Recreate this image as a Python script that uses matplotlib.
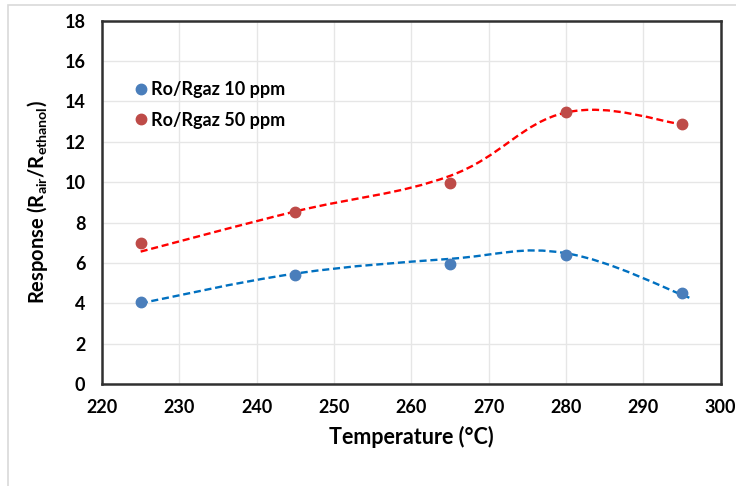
import numpy as np
import matplotlib
matplotlib.use("Agg")
import matplotlib.pyplot as plt
from matplotlib.patches import Rectangle, PathPatch
from matplotlib.path import Path

temps = [225, 245, 265, 280, 295]
resp_10ppm = [4.08, 5.40, 5.93, 6.41, 4.50]
resp_50ppm = [6.99, 8.54, 9.98, 13.47, 12.86]
labels = ["Ro/Rgaz 10 ppm", "Ro/Rgaz 50 ppm"]

# dashed smoothed trend series
trend_10_x = [225, 245, 265, 280, 296]
trend_10_y = [4.00, 5.47, 6.20, 6.48, 4.27]
trend_50_x = [225, 245, 265, 280, 295]
trend_50_y = [6.56, 8.55, 10.31, 13.45, 12.87]

plt.rcParams['font.family'] = ['Lato', 'DejaVu Sans']
plt.rcParams['mathtext.fontset'] = 'custom'
plt.rcParams['mathtext.rm'] = 'Lato'
plt.rcParams['mathtext.bf'] = 'Lato:bold'


def smooth_path(xs, ys, k=1/6.0):
    """Excel-like smoothed line: cubic Bezier segments (Catmull-Rom tangents)."""
    P = np.column_stack([xs, ys]).astype(float)
    n = len(P)
    verts = [P[0]]
    codes = [Path.MOVETO]
    for i in range(n - 1):
        prev = P[i - 1] if i > 0 else P[i]
        nxt = P[i + 2] if i + 2 < n else P[i + 1]
        c1 = P[i] + (P[i + 1] - prev) * k
        c2 = P[i + 1] - (nxt - P[i]) * k
        verts += [c1, c2, P[i + 1]]
        codes += [Path.CURVE4] * 3
    return Path(verts, codes)


fig = plt.figure(figsize=(7.36, 4.86), dpi=100)
fig.patches.append(Rectangle((8/736, -0.1), 1.2, 1 - 5/486 + 0.1, transform=fig.transFigure,
                             fill=False, edgecolor='#d9d9d9', linewidth=1.2))
ax = fig.add_axes([102/736, 1 - 384/486, (720.5 - 102)/736, (384 - 20.7)/486])

blue_pt = '#4a7ebb'
red_pt = '#be4b48'
for tx, ty, col in [(trend_10_x, trend_10_y, '#0070c0'), (trend_50_x, trend_50_y, '#ff0000')]:
    patch = PathPatch(smooth_path(tx, ty, 0.19), fill=False, edgecolor=col, lw=1.7,
                      linestyle=(0, (3, 1.6)), zorder=3)
    ax.add_patch(patch)
ax.plot(temps, resp_10ppm, 'o', color=blue_pt, ms=7.5, label=labels[0], zorder=4)
ax.plot(temps, resp_50ppm, 'o', color=red_pt, ms=7.5, label=labels[1], zorder=4)

ax.set_xlim(220, 300)
ax.set_ylim(0, 18)
ax.set_xticks(range(220, 301, 10))
ax.set_yticks(range(0, 19, 2))
ax.grid(True, color='#e6e6e6', lw=1)
ax.set_axisbelow(True)
for s in ax.spines.values():
    s.set_linewidth(1.8)
    s.set_color('#303030')
ax.tick_params(length=0, labelsize=13, pad=12)
ax.tick_params(axis='x', pad=11)
for t in ax.get_xticklabels() + ax.get_yticklabels():
    t.set_fontweight('bold')
ax.set_xlabel('Temperature (°C)', fontsize=15.5, fontweight='bold', labelpad=7)
ax.set_ylabel(r'Response (R$_{\mathbf{air}}$/R$_{\mathbf{ethanol}}$)', fontsize=14.5,
              fontweight='bold', labelpad=10)
leg = ax.legend(loc='upper left', bbox_to_anchor=(0.022, 0.878), frameon=False,
                prop={'weight': 'bold', 'size': 13}, handletextpad=0.05, labelspacing=0.75,
                handlelength=1.0)
fig.savefig('out.png', dpi=100)
